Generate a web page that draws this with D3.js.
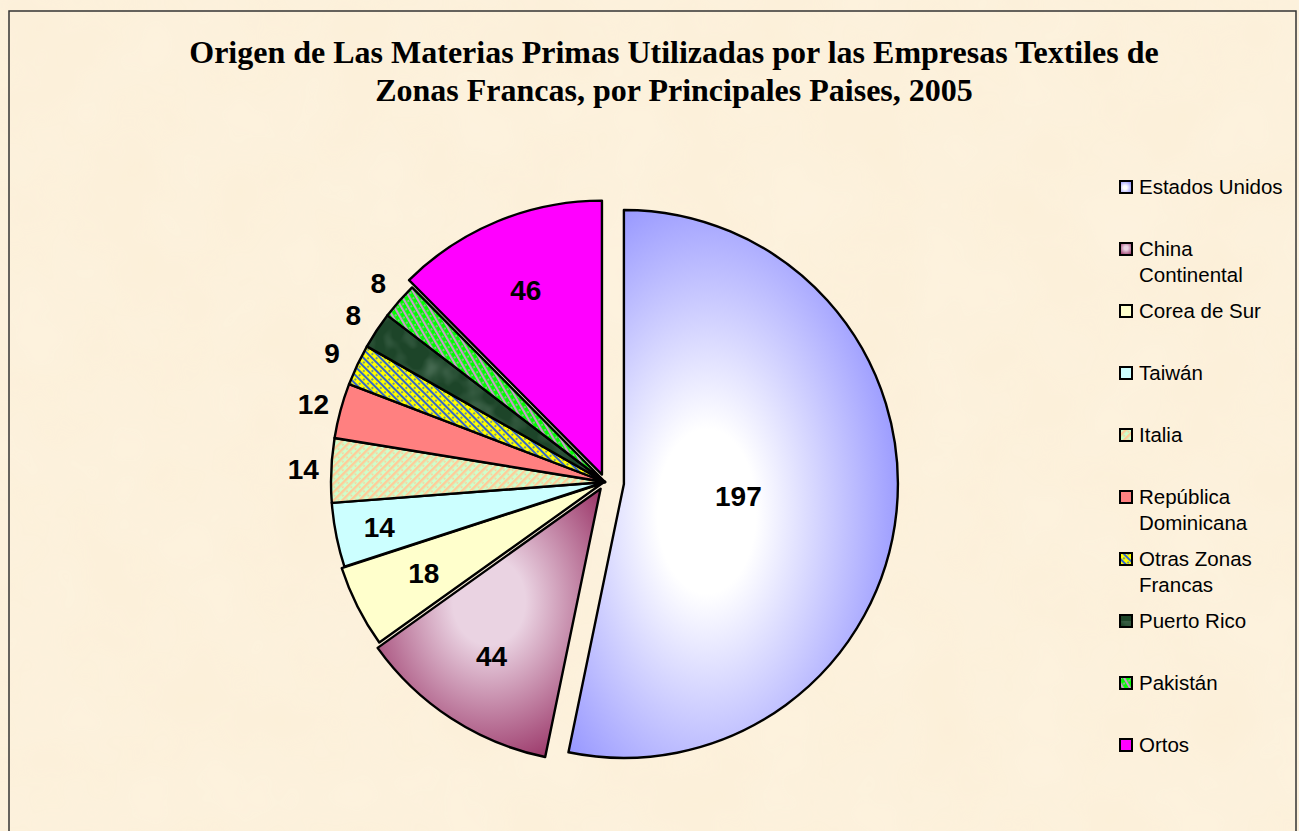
<!DOCTYPE html>
<html>
<head>
<meta charset="utf-8">
<script src="https://cdn.jsdelivr.net/npm/d3@7"></script>
<style>
  html, body { margin: 0; padding: 0; background: #ffffff; }
  svg { display: block; }
</style>
</head>
<body>
<svg id="chart" width="1299" height="831"></svg>
<script>
// data
const countries = ["Estados Unidos", "China Continental", "Corea de Sur", "Taiwán", "Italia",
  "República Dominicana", "Otras Zonas Francas", "Puerto Rico", "Pakistán", "Ortos"];
const values = [197, 44, 18, 14, 14, 12, 9, 8, 8, 46];
const legendLines = [["Estados Unidos"], ["China", "Continental"], ["Corea de Sur"], ["Taiwán"], ["Italia"],
  ["República", "Dominicana"], ["Otras Zonas", "Francas"], ["Puerto Rico"], ["Pakistán"], ["Ortos"]];
const titleLines = ["Origen de Las Materias Primas Utilizadas por las Empresas Textiles de",
  "Zonas Francas, por Principales Paises, 2005"];

// styling / layout
const fills = ["url(#gUS)", "url(#gChina)", "#ffffcc", "#ccffff", "url(#pItalia)",
  "#ff8080", "url(#pOtras)", "url(#pPR)", "url(#pPak)", "#ff00ff"];
const explode = [19, 8, 3, 0, 0, 0, 0, 0, 0, 8];
const labelMode = ["in", "in", "in", "in", "out", "out", "out", "out", "out", "in"];

const W = 1299, H = 831;
const cx = 605, cy = 482, R = 274;

const svg = d3.select("#chart");
const defs = svg.append("defs");

// parchment background texture
const paper = defs.append("filter").attr("id", "paper").attr("x", 0).attr("y", 0).attr("width", 1).attr("height", 1);
paper.append("feTurbulence").attr("type", "fractalNoise").attr("baseFrequency", 0.012).attr("numOctaves", 3).attr("seed", 4).attr("result", "n");
paper.append("feColorMatrix").attr("in", "n").attr("type", "matrix")
  .attr("values", "0 0 0 0 0.99  0 0 0 0 0.93  0 0 0 0 0.80  0 0 0 0.45 0");
paper.append("feComposite").attr("in2", "SourceGraphic").attr("operator", "in");

// gradients
function centerGradient(id, inner, outer, fx, fy, r) {
  const g = defs.append("radialGradient").attr("id", id)
    .attr("cx", fx).attr("cy", fy).attr("r", r).attr("fx", fx).attr("fy", fy);
  g.append("stop").attr("offset", "0%").attr("stop-color", inner);
  g.append("stop").attr("offset", "25%").attr("stop-color", inner);
  g.append("stop").attr("offset", "100%").attr("stop-color", outer);
}
centerGradient("gUS", "#ffffff", "#9999ff", 0.42, 0.55, 0.6);
centerGradient("gChina", "#ead3e2", "#993366", 0.5, 0.42, 0.65);

// hatch patterns
function stripes(id, bg, fg, angle, size, band) {
  const p = defs.append("pattern").attr("id", id).attr("patternUnits", "userSpaceOnUse")
    .attr("width", size).attr("height", size).attr("patternTransform", `rotate(${angle})`);
  p.append("rect").attr("width", size).attr("height", size).attr("fill", bg);
  p.append("rect").attr("width", band).attr("height", size).attr("fill", fg);
  p.append("circle").attr("cx", band + (size - band) / 2).attr("cy", size / 2).attr("r", 0.9).attr("fill", fg);
}
stripes("pItalia", "#ccffcc", "#ffcc99", 45, 6, 2.5);
stripes("pOtras", "#ffff00", "#3366cc", -45, 6, 2);
stripes("pPak", "#00ff00", "#cc99cc", -30, 6, 2.2);

// marble-like dark green
const pr = defs.append("pattern").attr("id", "pPR").attr("patternUnits", "userSpaceOnUse")
  .attr("width", 300).attr("height", 300);
pr.append("rect").attr("width", 300).attr("height", 300).attr("fill", "#1d4529");
const marble = defs.append("filter").attr("id", "marble");
marble.append("feTurbulence").attr("type", "fractalNoise").attr("baseFrequency", 0.05).attr("numOctaves", 2).attr("seed", 7).attr("result", "m");
marble.append("feColorMatrix").attr("in", "m").attr("type", "matrix")
  .attr("values", "0 0 0 0 0.4  0 0 0 0 0.55  0 0 0 0 0.45  0 0 0 0.6 -0.25");
pr.append("rect").attr("width", 300).attr("height", 300).attr("filter", "url(#marble)");

// background + frame
svg.append("rect").attr("width", W).attr("height", H).attr("fill", "#fcefd8");
svg.append("rect").attr("width", W).attr("height", H).attr("fill", "#fbe9cc").attr("filter", "url(#paper)");
svg.append("rect").attr("x", 9).attr("y", 11).attr("width", W - 12).attr("height", H)
  .attr("fill", "none").attr("stroke", "#333333").attr("stroke-width", 1.5);

// title
svg.append("g").selectAll("text").data(titleLines).join("text")
  .attr("x", 674).attr("y", (d, i) => 63 + i * 38)
  .attr("text-anchor", "middle")
  .attr("font-family", "'Liberation Serif', 'Times New Roman', serif")
  .attr("font-weight", "bold").attr("font-size", 32)
  .text(d => d);

// pie
const pie = d3.pie().sort(null).value(d => d);
const arcs = pie(values);
const arc = d3.arc().innerRadius(0).outerRadius(R);

const offsetOf = (d, i) => {
  const m = (d.startAngle + d.endAngle) / 2;
  return [explode[i] * Math.sin(m), -explode[i] * Math.cos(m)];
};

const g = svg.append("g").attr("transform", `translate(${cx},${cy})`);

g.selectAll("path.slice").data(arcs).join("path")
  .attr("class", "slice")
  .attr("transform", (d, i) => { const o = offsetOf(d, i); return `translate(${o[0]},${o[1]})`; })
  .attr("d", arc)
  .attr("fill", (d, i) => fills[i])
  .attr("stroke", "#000").attr("stroke-width", 2.4).attr("stroke-linejoin", "round");

function labelPos(d, i) {
  const m = (d.startAngle + d.endAngle) / 2;
  const span = d.endAngle - d.startAngle;
  let rr;
  if (labelMode[i] === "out") rr = R + 28;
  else if (span > Math.PI) rr = R * 0.42;
  else if (span < 0.3) rr = R * 0.84;
  else rr = R * 0.73;
  const o = offsetOf(d, i);
  return [o[0] + rr * Math.sin(m), o[1] - rr * Math.cos(m)];
}

g.selectAll("text.val").data(arcs).join("text")
  .attr("class", "val")
  .attr("x", (d, i) => labelPos(d, i)[0])
  .attr("y", (d, i) => labelPos(d, i)[1])
  .attr("dy", "0.36em")
  .attr("text-anchor", "middle")
  .attr("font-family", "'Liberation Sans', Arial, sans-serif")
  .attr("font-weight", "bold").attr("font-size", 28)
  .text(d => d.data);

// legend
const legend = svg.append("g").attr("transform", "translate(1119,187)");
const item = legend.selectAll("g").data(countries).join("g")
  .attr("transform", (d, i) => `translate(0,${i * 62})`);
item.append("rect").attr("x", 1).attr("y", -6).attr("width", 12).attr("height", 12)
  .attr("fill", (d, i) => fills[i]).attr("stroke", "#000").attr("stroke-width", 2);
item.append("text")
  .attr("font-family", "'Liberation Sans', Arial, sans-serif").attr("font-size", 20.5)
  .selectAll("tspan").data((d, i) => legendLines[i]).join("tspan")
  .attr("x", 20).attr("y", (d, j) => j * 26).attr("dy", "0.35em")
  .text(d => d);
</script>
</body>
</html>
